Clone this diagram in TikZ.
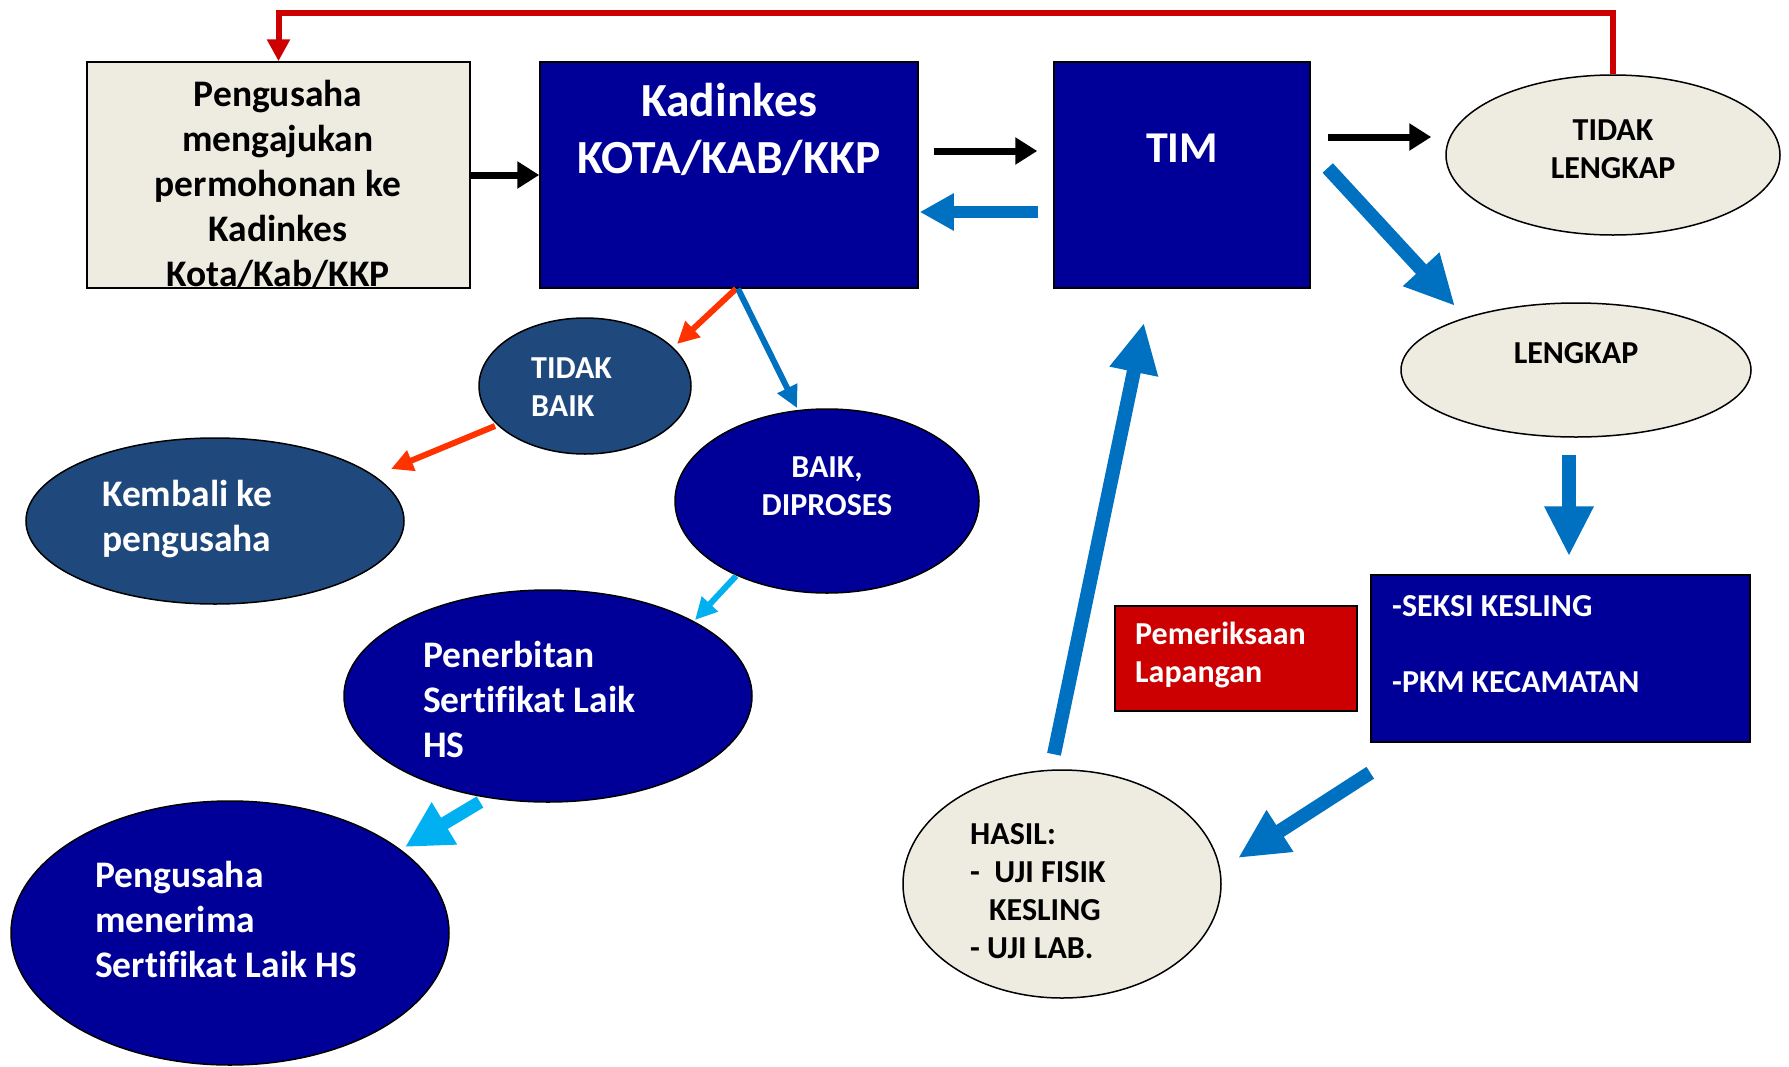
\documentclass[tikz,border=0pt]{standalone}
\usepackage{fontspec}
\setmainfont{Carlito}[Ligatures=NoCommon]
\usetikzlibrary{shapes.geometric, arrows.meta}

\definecolor{kadblue}{HTML}{000099}
\definecolor{slateblue}{HTML}{1F497D}
\definecolor{creamfill}{HTML}{EEECE1}
\definecolor{redbox}{HTML}{CC0000}
\definecolor{flowblue}{HTML}{0070C0}
\definecolor{skyblue}{HTML}{00B0F0}
\definecolor{orangered}{HTML}{FF3300}

\begin{document}
\begin{tikzpicture}[x=1pt, y=-1pt,
    box/.style={draw=black, line width=1.5pt, rectangle, inner sep=0pt},
    oval/.style={draw=black, line width=1.5pt, ellipse, inner sep=0pt},
    hugetxt/.style={font=\bfseries\fontsize{47.5pt}{57pt}\selectfont},
    bigtxt/.style={font=\bfseries\fontsize{37.5pt}{45pt}\selectfont},
    midtxt/.style={font=\bfseries\fontsize{32pt}{38pt}\selectfont},
    blkarrow/.style={draw=black, line width=7pt, -{Triangle[length=22pt,width=26pt]}},
    fatarrow/.style={draw=flowblue, line width=14pt, -{Triangle[length=50pt,width=46pt]}},
    midarrow/.style={draw=flowblue, line width=12pt, -{Triangle[length=34pt,width=35pt]}},
    thinarrow/.style={line width=6pt, -{Triangle[length=22pt,width=21pt]}}]
    \useasboundingbox (0,0) rectangle (1789,1066);

    % --- Top row: applicant, Kadinkes, TIM ---
    \node[box, fill=creamfill, minimum width=383pt, minimum height=226pt] (peng) at (278.5,175) {};
    \node[box, fill=kadblue, minimum width=378pt, minimum height=226pt] (kad) at (729,175) {};
    \node[box, fill=kadblue, minimum width=256pt, minimum height=226pt] (tim) at (1182,175) {};
    \node[bigtxt, align=center] (pengtxt) at (278,184)
        {Pengusaha\\mengajukan\\permohonan ke\\Kadinkes\\Kota/Kab/KKP};
    \node[hugetxt, text=white, align=center] (kadtxt) at (729,129) {Kadinkes\\KOTA/KAB/KKP};
    \node[font=\bfseries\fontsize{44pt}{54pt}\selectfont, text=white] (timtxt) at (1182,148) {TIM};

    % --- Completeness check ---
    \node[oval, fill=creamfill, minimum width=334pt, minimum height=160pt] (tl) at (1613,155) {};
    \node[midtxt, align=center] (tltxt) at (1613,149) {TIDAK\\LENGKAP};
    \node[oval, fill=creamfill, minimum width=350pt, minimum height=134pt] (lk) at (1576,370) {};
    \node[midtxt] (lktxt) at (1576,353) {LENGKAP};

    % --- Field inspection ---
    \node[box, fill=kadblue, minimum width=379pt, minimum height=167pt] (sk) at (1560.5,658.5) {};
    \node[midtxt, text=white, align=left, anchor=west, inner sep=0pt] (sktxt) at (1392,644)
        {-SEKSI KESLING\\[38pt]-PKM KECAMATAN};
    \node[box, fill=redbox, minimum width=242pt, minimum height=105pt] (pl) at (1236,658.5) {};
    \node[midtxt, text=white, align=left, anchor=west, inner sep=0pt] (pltxt) at (1135,654.5)
        {Pemeriksaan\\Lapangan};
    \node[oval, fill=creamfill, minimum width=318pt, minimum height=228pt] (hs) at (1062,884) {};
    \node[midtxt, align=left, anchor=west, inner sep=0pt] (hstxt) at (970,891.5)
        {HASIL:\\-~~UJI FISIK\\\hspace*{19pt}KESLING\\- UJI LAB.};

    % --- Decision branch under Kadinkes ---
    \node[oval, fill=slateblue, minimum width=212pt, minimum height=136pt] (tb) at (585,386) {};
    \node[midtxt, text=white, align=left, anchor=west, inner sep=0pt] (tbtxt) at (531,387) {TIDAK\\BAIK};
    \node[oval, fill=slateblue, minimum width=378pt, minimum height=166pt] (kb) at (215,521) {};
    \node[bigtxt, text=white, align=left, anchor=west, inner sep=0pt] (kbtxt) at (102,519) {Kembali ke\\pengusaha};
    \node[oval, fill=kadblue, minimum width=304pt, minimum height=184pt] (bd) at (827,501) {};
    \node[midtxt, text=white, align=center] (bdtxt) at (827,486) {BAIK,\\DIPROSES};
    \node[oval, fill=kadblue, minimum width=408pt, minimum height=212pt] (pen) at (548,696) {};
    \node[bigtxt, text=white, align=left, anchor=west, inner sep=0pt] (pentxt) at (423,699)
        {Penerbitan\\Sertifikat Laik\\HS};
    \node[oval, fill=kadblue, minimum width=438pt, minimum height=264pt] (pm) at (230,933) {};
    \node[bigtxt, text=white, align=left, anchor=west, inner sep=0pt] (pmtxt) at (95,919)
        {Pengusaha\\menerima\\Sertifikat Laik HS};

    % --- Return line: incomplete goes back to the applicant ---
    \draw[draw=redbox, line width=6pt, -{Triangle[length=22pt,width=22pt]}]
        (tl.north) -- ++(0,-61) -| (peng.north);

    % --- Top row arrows ---
    \draw[blkarrow] (peng.east) -- (kad.west);
    \draw[blkarrow] ([xshift=15pt,yshift=24pt]kad.east) -- ([xshift=-16pt,yshift=24pt]tim.west);
    \draw[midarrow] ([xshift=-15pt,yshift=-37pt]tim.west) -- ([xshift=1pt,yshift=-37pt]kad.east);
    \draw[blkarrow] ([xshift=17pt,yshift=38pt]tim.east) -- ([xshift=-14pt,yshift=18pt]tl.west);

    % --- Inspection loop ---
    \draw[fatarrow] ([xshift=17pt,yshift=7pt]tim.east) -- ([xshift=-121pt,yshift=64pt]lk.center);
    \draw[fatarrow] ([xshift=-7pt,yshift=-17pt]lk.south) -- ([xshift=8.5pt,yshift=18pt]sk.north);
    \draw[fatarrow] ([yshift=-30pt]sk.south west) -- ([xshift=176pt,yshift=26pt]hs.center);
    \draw[fatarrow] ([xshift=-8pt,yshift=15pt]hs.north) -- ([xshift=-38pt,yshift=-34pt]tim.south);

    % --- Decision arrows ---
    \draw[thinarrow, draw=orangered] ([xshift=7pt]kad.south) -- ([xshift=92pt,yshift=42pt]tb.center);
    \draw[thinarrow, draw=flowblue] ([xshift=9pt]kad.south) -- ([xshift=-30pt,yshift=93pt]bd.center);
    \draw[thinarrow, draw=orangered] ([xshift=-90pt,yshift=-40pt]tb.center) -- ([xshift=176pt,yshift=52pt]kb.center);
    \draw[thinarrow, draw=skyblue] ([xshift=-91pt,yshift=-75pt]bd.center) -- ([xshift=147pt,yshift=76pt]pen.center);
    \draw[draw=skyblue, line width=13pt, -{Triangle[length=46pt,width=46pt]}]
        ([xshift=-68pt,yshift=-106pt]pen.center) -- ([xshift=175pt,yshift=86pt]pm.center);
\end{tikzpicture}
\end{document}
